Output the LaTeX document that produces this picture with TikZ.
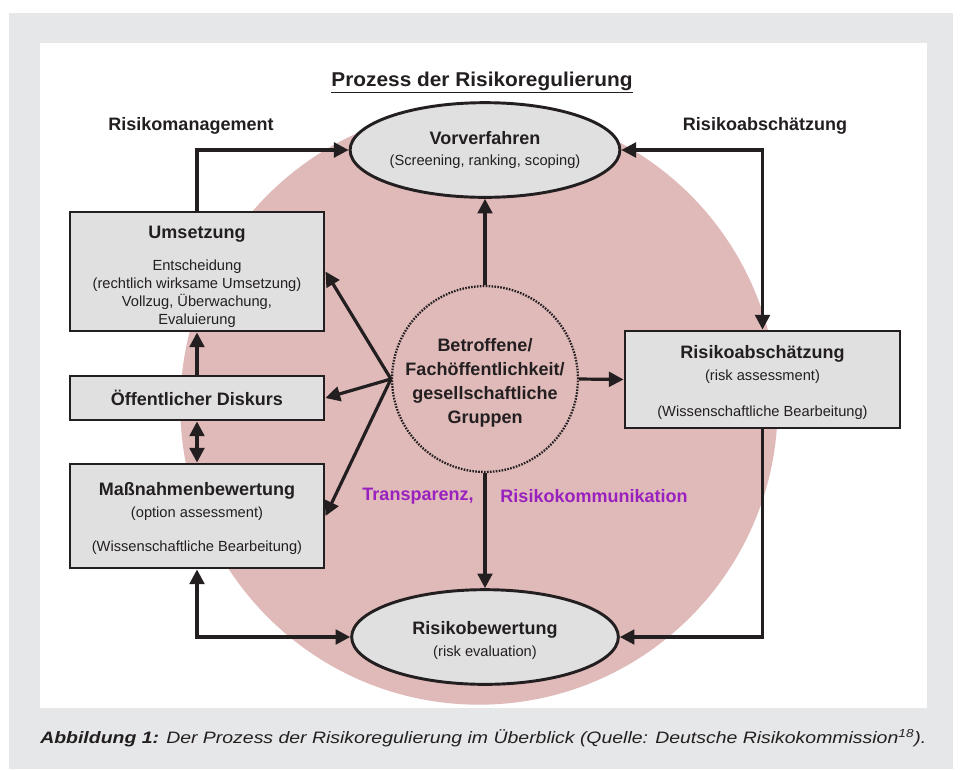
\documentclass[tikz,border=0pt]{standalone}
\usepackage{fontspec}
\setmainfont{Liberation Sans}
\usepackage{xcolor}
\usepackage{graphicx}
\usetikzlibrary{positioning, arrows.meta, shapes, calc, fit}

\definecolor{rahmengrau}{RGB}{230,231,232}
\definecolor{kastengrau}{RGB}{224,224,224}
\definecolor{rosa}{RGB}{224,185,185}
\definecolor{lila}{RGB}{153,33,190}
\definecolor{tinte}{RGB}{35,31,32}

\newcommand{\kopf}{\bfseries\fontsize{13.5}{16}\selectfont}
\newcommand{\klein}{\fontsize{11}{13.5}\selectfont}

\begin{document}
\begin{tikzpicture}[x=0.75pt, y=-0.75pt,
    kasten/.style={rectangle, draw=tinte, line width=2.2pt, fill=kastengrau, text=tinte, align=center, font=\klein, inner sep=0pt},
    phase/.style={ellipse, draw=tinte, line width=2.2pt, fill=kastengrau, text=tinte, align=center, font=\klein, inner sep=0pt, minimum width=200pt, minimum height=71pt},
    pfeil/.style={draw=tinte, line width=2.4pt, -{Triangle[length=11pt, width=11pt]}},
    doppelpfeil/.style={pfeil, {Triangle[length=11pt, width=11pt]}-{Triangle[length=11pt, width=11pt]}}]

        % Hintergrund
        \fill[white] (0,0) rectangle (963,769);
        \fill[rahmengrau] (9,13) rectangle (953,769);
        \fill[white] (40,43) rectangle (927,708);
        \fill[rosa] (479,406) circle[radius=224pt];

        % Ueberschriften
        \node[font=\bfseries\fontsize{15}{18}\selectfont, text=tinte, anchor=base] (titel) at (482,86) {\resizebox{225.75pt}{\height}{\underline{Prozess der Risikoregulierung}}};
        \node[font=\kopf, text=tinte, anchor=base] (managementkopf) at (191,130) {Risikomanagement};
        \node[font=\kopf, text=tinte, anchor=base] (abschaetzkopf) at (765,130) {Risikoabschätzung};

        % Phasen
        \node[phase] (vorverfahren) at (485,150) {{\kopf Vorverfahren}\\[2.25pt](Screening, ranking, scoping)};
        \node[phase] (bewertung) at (485,637) {\rule{0pt}{14.5pt}{\kopf Risikobewertung}\\[3pt](risk evaluation)};

        \node[kasten, minimum width=190.5pt, minimum height=89.25pt] (umsetzung) at (197,271.5)
            {\rule{0pt}{17pt}{\kopf Umsetzung}\\[10.5pt]Entscheidung\\(rechtlich wirksame Umsetzung)\\Vollzug, Überwachung,\\Evaluierung};
        \node[kasten, minimum width=190.5pt, minimum height=33pt, font=\kopf] (diskurs) at (197,398) {Öffentlicher Diskurs};
        \node[kasten, minimum width=190.5pt, minimum height=78pt] (massnahmen) at (197,516)
            {\rule{0pt}{13pt}{\kopf Maßnahmenbewertung}\\[3pt](option assessment)\\[12pt](Wissenschaftliche Bearbeitung)};
        \node[kasten, minimum width=206.25pt, minimum height=72.75pt] (abschaetzung) at (762.5,379.5)
            {\rule{0pt}{14.5pt}{\kopf Risikoabschätzung}\\[3pt](risk assessment)\\[13.5pt](Wissenschaftliche Bearbeitung)};

        % Mitte
        \node[circle, draw=tinte, line width=1.7pt, dash pattern=on 1.2pt off 1pt, minimum size=127.5pt, inner sep=0pt,
            align=center, text=tinte, font=\bfseries\fontsize{13.5}{18}\selectfont] (gruppen) at (485,379)
            {\rule{0pt}{16pt}Betroffene/\\Fachöffentlichkeit/\\gesellschaftliche\\Gruppen};
        \node[font=\kopf, text=lila] (transparenz) at (418,496) {Transparenz,};
        \node[font=\kopf, text=lila] (kommunikation) at (594,496) {Risikokommunikation};

        % Kreislauf
        \draw[pfeil] (umsetzung.north) |- (vorverfahren.west);
        \draw[doppelpfeil] (vorverfahren.east) -| (abschaetzung.north);
        \draw[pfeil] (abschaetzung.south) |- (bewertung.east);
        \draw[doppelpfeil] (bewertung.west) -| (massnahmen.south);
        \draw[pfeil] (diskurs.north) -- (umsetzung.south);
        \draw[doppelpfeil] (diskurs.south) -- (massnahmen.north);

        % Beteiligung
        \draw[pfeil] (gruppen.north) -- (vorverfahren.south);
        \draw[pfeil] (gruppen.south) -- (bewertung.north);
        \draw[pfeil] (gruppen.east) -- (abschaetzung.west);
        \foreach \ziel in {umsetzung, diskurs, massnahmen}
            \draw[pfeil] (gruppen.west) -- (\ziel.east);

        % Bildunterschrift
        \node[font=\fontsize{12.4}{15}\selectfont, text=tinte, anchor=base west, inner sep=0pt] (unterschrift) at (40,743)
            {\resizebox{664.5pt}{\height}{\itshape\textbf{Abbildung 1:} Der Prozess der Risikoregulierung im Überblick (Quelle: Deutsche Risikokommission\textsuperscript{18}).}};

    \end{tikzpicture}
\end{document}
